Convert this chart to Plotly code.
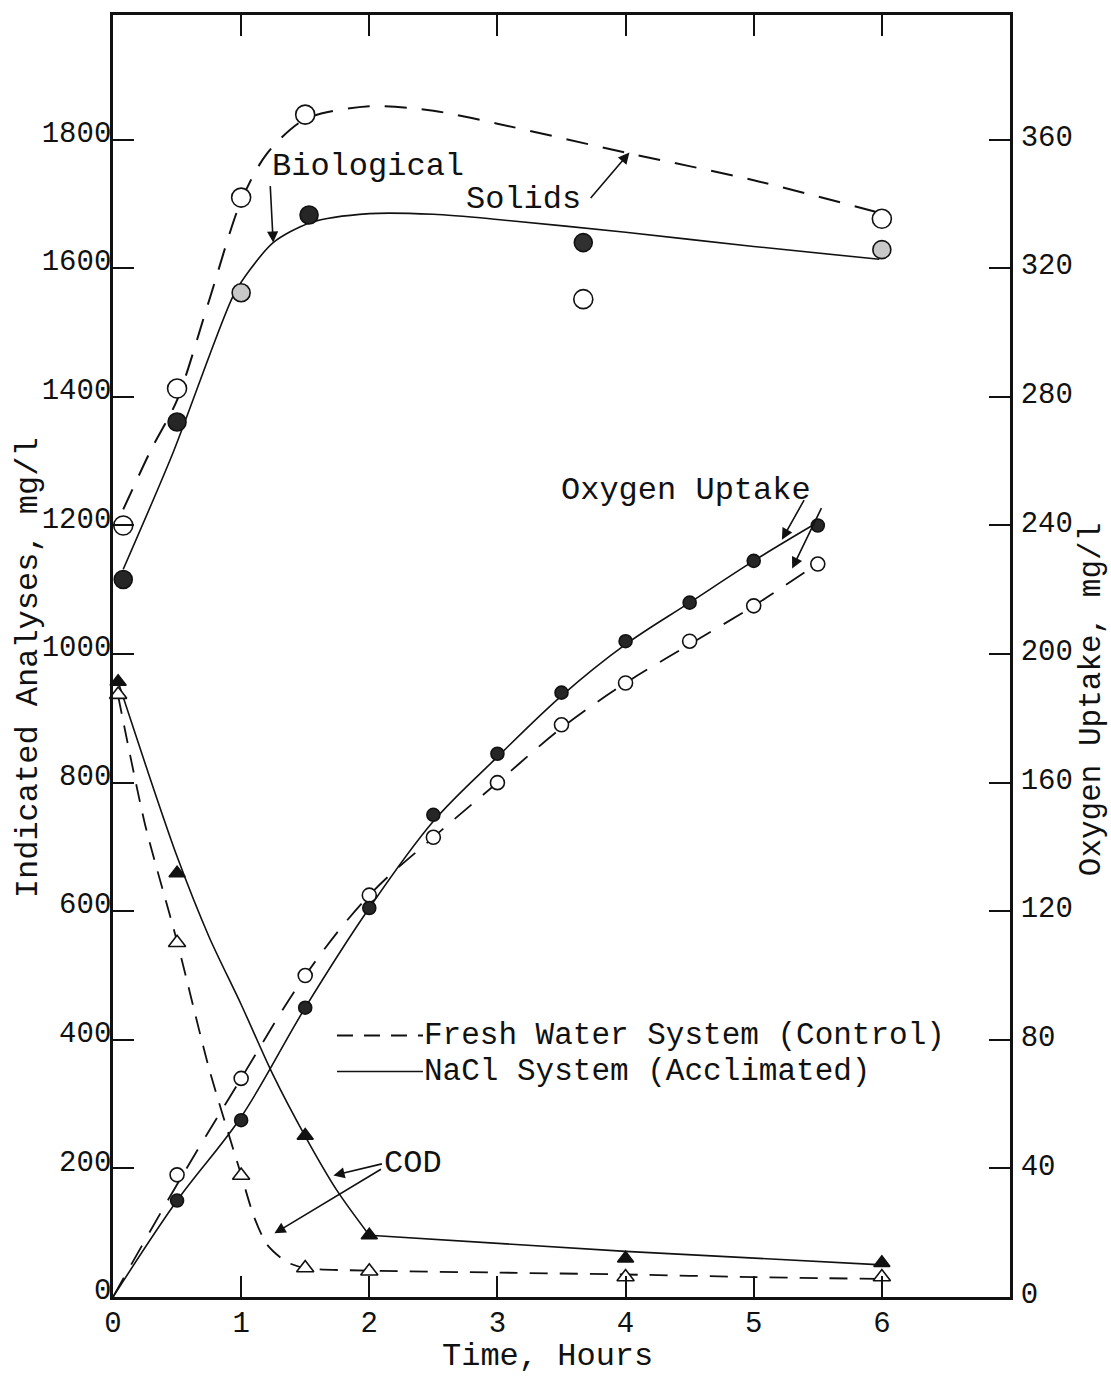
import plotly.graph_objects as go

# ---------------- data ----------------
# Biological solids, mg/l (left axis)
bs_time_fresh = [0.08, 0.5, 1.0, 1.5, 3.67, 6.0]
bs_fresh = [1200, 1413, 1710, 1839, 1552, 1677]
bs_time_nacl = [0.08, 0.5, 1.0, 1.53, 3.67, 6.0]
bs_nacl = [1116, 1361, 1562, 1683, 1640, 1629]

# hand-drawn trend curves for biological solids
bs_curve_time_fresh = [0.08, 0.3, 0.5, 0.75, 1.0, 1.2, 1.5, 2.0, 2.5, 3.0, 4.0, 5.0, 5.95]
bs_curve_fresh = [1225, 1319, 1395, 1550, 1705, 1778, 1832, 1852, 1845, 1825, 1780, 1737, 1688]
bs_curve_time_nacl = [0.08, 0.47, 0.94, 1.07, 1.25, 1.54, 2.0, 2.5, 3.0, 4.0, 5.0, 5.98]
bs_curve_nacl = [1132, 1314, 1558, 1598, 1640, 1671, 1685, 1684, 1676, 1656, 1634, 1614]

# Oxygen uptake, mg/l (right axis)
o2_time = [0.5, 1.0, 1.5, 2.0, 2.5, 3.0, 3.5, 4.0, 4.5, 5.0, 5.5]
o2_fresh = [38, 68, 100, 125, 143, 160, 178, 191, 204, 215, 228]
o2_nacl = [30, 55, 90, 121, 150, 169, 188, 204, 216, 229, 240]
o2_curve_time_fresh = [0, 0.5, 1.0, 1.5, 2.0, 2.5, 3.0, 3.5, 4.0, 4.5, 5.0, 5.42]
o2_curve_fresh = [0, 35, 68, 100, 125, 143, 160, 177, 191, 203, 215, 226]
o2_curve_time_nacl = [0, 0.5, 1.0, 1.5, 2.0, 2.5, 3.0, 3.5, 4.0, 4.5, 5.0, 5.5]
o2_curve_nacl = [0, 30, 56, 90, 121, 148, 168, 187, 203, 216, 229, 241]

# COD, mg/l (left axis)
cod_time_fresh = [0.04, 0.5, 1.0, 1.5, 2.0, 4.0, 6.0]
cod_fresh = [937, 551, 189, 45, 40, 31, 31]
cod_time_nacl = [0.04, 0.5, 1.5, 2.0, 4.0, 6.0]
cod_nacl = [957, 659, 251, 96, 60, 53]
cod_curve_time_fresh = [0.04, 0.25, 0.5, 0.75, 1.0, 1.1, 1.2, 1.35, 1.5, 2.0, 3.0, 4.0, 5.0, 6.0]
cod_curve_fresh = [935, 735, 553, 355, 190, 125, 82, 55, 45, 41, 38, 35, 31, 28]
cod_curve_time_nacl = [0.04, 0.25, 0.5, 0.75, 1.0, 1.25, 1.5, 1.75, 2.0]
cod_curve_nacl = [957, 830, 685, 560, 455, 345, 250, 165, 96]
cod_tail_time_nacl = [2.0, 4.0, 6.0]
cod_tail_nacl = [96, 71, 50]

# axes
x_ticks = [0, 1, 2, 3, 4, 5, 6]
y_left_ticks = [0, 200, 400, 600, 800, 1000, 1200, 1400, 1600, 1800]
y_right_ticks = [0, 40, 80, 120, 160, 200, 240, 280, 320, 360]
x_range = [0, 7]
y_left_range = [0, 1994]
y_right_range = [0, 398.8]

# ---------------- styling ----------------
INK = "#111111"
FONT = "Liberation Mono"
DASH = "22px,15px"
DASH_SHORT = "18px,12px"

fig = go.Figure()

def curve(x, y, dash, width, yaxis="y", shape="spline", smoothing=0.8):
    fig.add_trace(go.Scatter(
        x=x, y=y, mode="lines", yaxis=yaxis, showlegend=False, hoverinfo="skip",
        line=dict(color=INK, width=width, dash=dash, shape=shape,
                  smoothing=smoothing if shape == "spline" else None),
        cliponaxis=False))

def points(x, y, symbol, size, fill, yaxis="y", name=None):
    fig.add_trace(go.Scatter(
        x=x, y=y, mode="markers", yaxis=yaxis, showlegend=False, name=name,
        marker=dict(symbol=symbol, size=size, color=fill,
                    line=dict(color=INK, width=1.6)),
        cliponaxis=False))

# Biological solids
curve(bs_curve_time_fresh, bs_curve_fresh, DASH, 2.0)
curve(bs_curve_time_nacl, bs_curve_nacl, "solid", 1.6)
points(bs_time_fresh, bs_fresh, "circle", 19, "white", name="BS fresh")
points(bs_time_nacl, bs_nacl, "circle", 18,
       ["#262626", "#262626", "#c8c8c8", "#262626", "#303030", "#c8c8c8"], name="BS NaCl")

# Oxygen uptake
curve(o2_curve_time_fresh, o2_curve_fresh, DASH, 1.8, yaxis="y2", smoothing=1.0)
curve(o2_curve_time_nacl, o2_curve_nacl, "solid", 1.6, yaxis="y2", smoothing=1.0)
points(o2_time, o2_fresh, "circle", 14, "white", yaxis="y2", name="O2 fresh")
points(o2_time, o2_nacl, "circle", 13, "#262626", yaxis="y2", name="O2 NaCl")

# COD
curve(cod_curve_time_fresh, cod_curve_fresh, DASH_SHORT, 1.8, smoothing=0.7)
curve(cod_curve_time_nacl, cod_curve_nacl, "solid", 1.6)
curve(cod_tail_time_nacl, cod_tail_nacl, "solid", 1.6, shape="linear")
points(cod_time_fresh, cod_fresh, "triangle-up", 15, "white", name="COD fresh")
points(cod_time_nacl, cod_nacl, "triangle-up", 14, "#111111", name="COD NaCl")

tickfont = dict(family=FONT, size=29, color=INK)
axis_common = dict(showgrid=False, zeroline=False, showline=True, linecolor=INK,
                   linewidth=2.8, ticks="inside", ticklen=21, tickwidth=2,
                   tickcolor=INK, tickfont=tickfont)

fig.update_layout(
    width=1111, height=1379,
    margin=dict(l=113, r=101, t=12, b=82),
    paper_bgcolor="white", plot_bgcolor="white",
    font=dict(family=FONT, color=INK),
    xaxis=dict(range=x_range, tickvals=x_ticks, ticktext=[str(v) for v in x_ticks],
               mirror="ticks", ticklabelstandoff=-3, **axis_common),
    yaxis=dict(range=y_left_range, tickvals=y_left_ticks,
               ticktext=[str(v) for v in y_left_ticks], ticklabelstandoff=-7,
               ticklabelshift=-8, **axis_common),
    yaxis2=dict(range=y_right_range, tickvals=y_right_ticks,
                ticktext=[str(v) for v in y_right_ticks], overlaying="y", side="right",
                ticklabelstandoff=2, ticklabelshift=-4, **axis_common),
)

txt = dict(family=FONT, size=32, color=INK)
legtxt = dict(family=FONT, size=31, color=INK)

# axis titles
fig.add_annotation(text="Indicated Analyses, mg/l", xref="paper", yref="paper",
                   x=-0.094, y=0.491, textangle=-90, showarrow=False, font=txt,
                   xanchor="center", yanchor="middle")
fig.add_annotation(text="Oxygen Uptake, mg/l", xref="paper", yref="paper",
                   x=1.091, y=0.466, textangle=-90, showarrow=False,
                   font=dict(family=FONT, size=31, color=INK),
                   xanchor="center", yanchor="middle")
fig.add_annotation(text="Time, Hours", xref="paper", yref="paper",
                   x=0.484, y=-0.0467, showarrow=False, font=txt,
                   xanchor="center", yanchor="middle")

# curve labels
for label, lx, ly in [("Biological", 1.99, 1759), ("Solids", 3.20, 1707),
                      ("Oxygen Uptake", 4.47, 1255), ("COD", 2.34, 208)]:
    fig.add_annotation(text=label, x=lx, y=ly, xref="x", yref="y", showarrow=False,
                       font=txt, xanchor="center", yanchor="middle")

# pointer arrows (head at curve, tail offset in px)
for hx, hy, ax, ay in [(1.25, 1640, -3, -58), (4.03, 1780, -40, 47),
                       (5.22, 1178, 23, -41), (5.30, 1133, 30, -62),
                       (1.72, 189, 50, -12), (1.26, 99, 108, -65)]:
    fig.add_annotation(x=hx, y=hy, xref="x", yref="y", text="", showarrow=True,
                       ax=ax, ay=ay, axref="pixel", ayref="pixel",
                       arrowhead=2, arrowsize=1.4, arrowwidth=1.6, arrowcolor=INK)

# legend key
leg_y1 = 0.2039
leg_y2 = 0.1759
fig.add_shape(type="line", xref="paper", yref="paper", x0=0.2497, x1=0.3456,
              y0=leg_y1, y1=leg_y1, line=dict(color=INK, width=2, dash="16px,11px"))
fig.add_shape(type="line", xref="paper", yref="paper", x0=0.2497, x1=0.3456,
              y0=leg_y2, y1=leg_y2, line=dict(color=INK, width=1.6))
fig.add_annotation(text="Fresh Water System (Control)", xref="paper", yref="paper",
                   x=0.3456, y=leg_y1, showarrow=False, font=legtxt, borderpad=0,
                   xanchor="left", yanchor="middle")
fig.add_annotation(text="NaCl System (Acclimated)", xref="paper", yref="paper",
                   x=0.3456, y=leg_y2, showarrow=False, font=legtxt, borderpad=0,
                   xanchor="left", yanchor="middle")

fig.write_html("out.html")
